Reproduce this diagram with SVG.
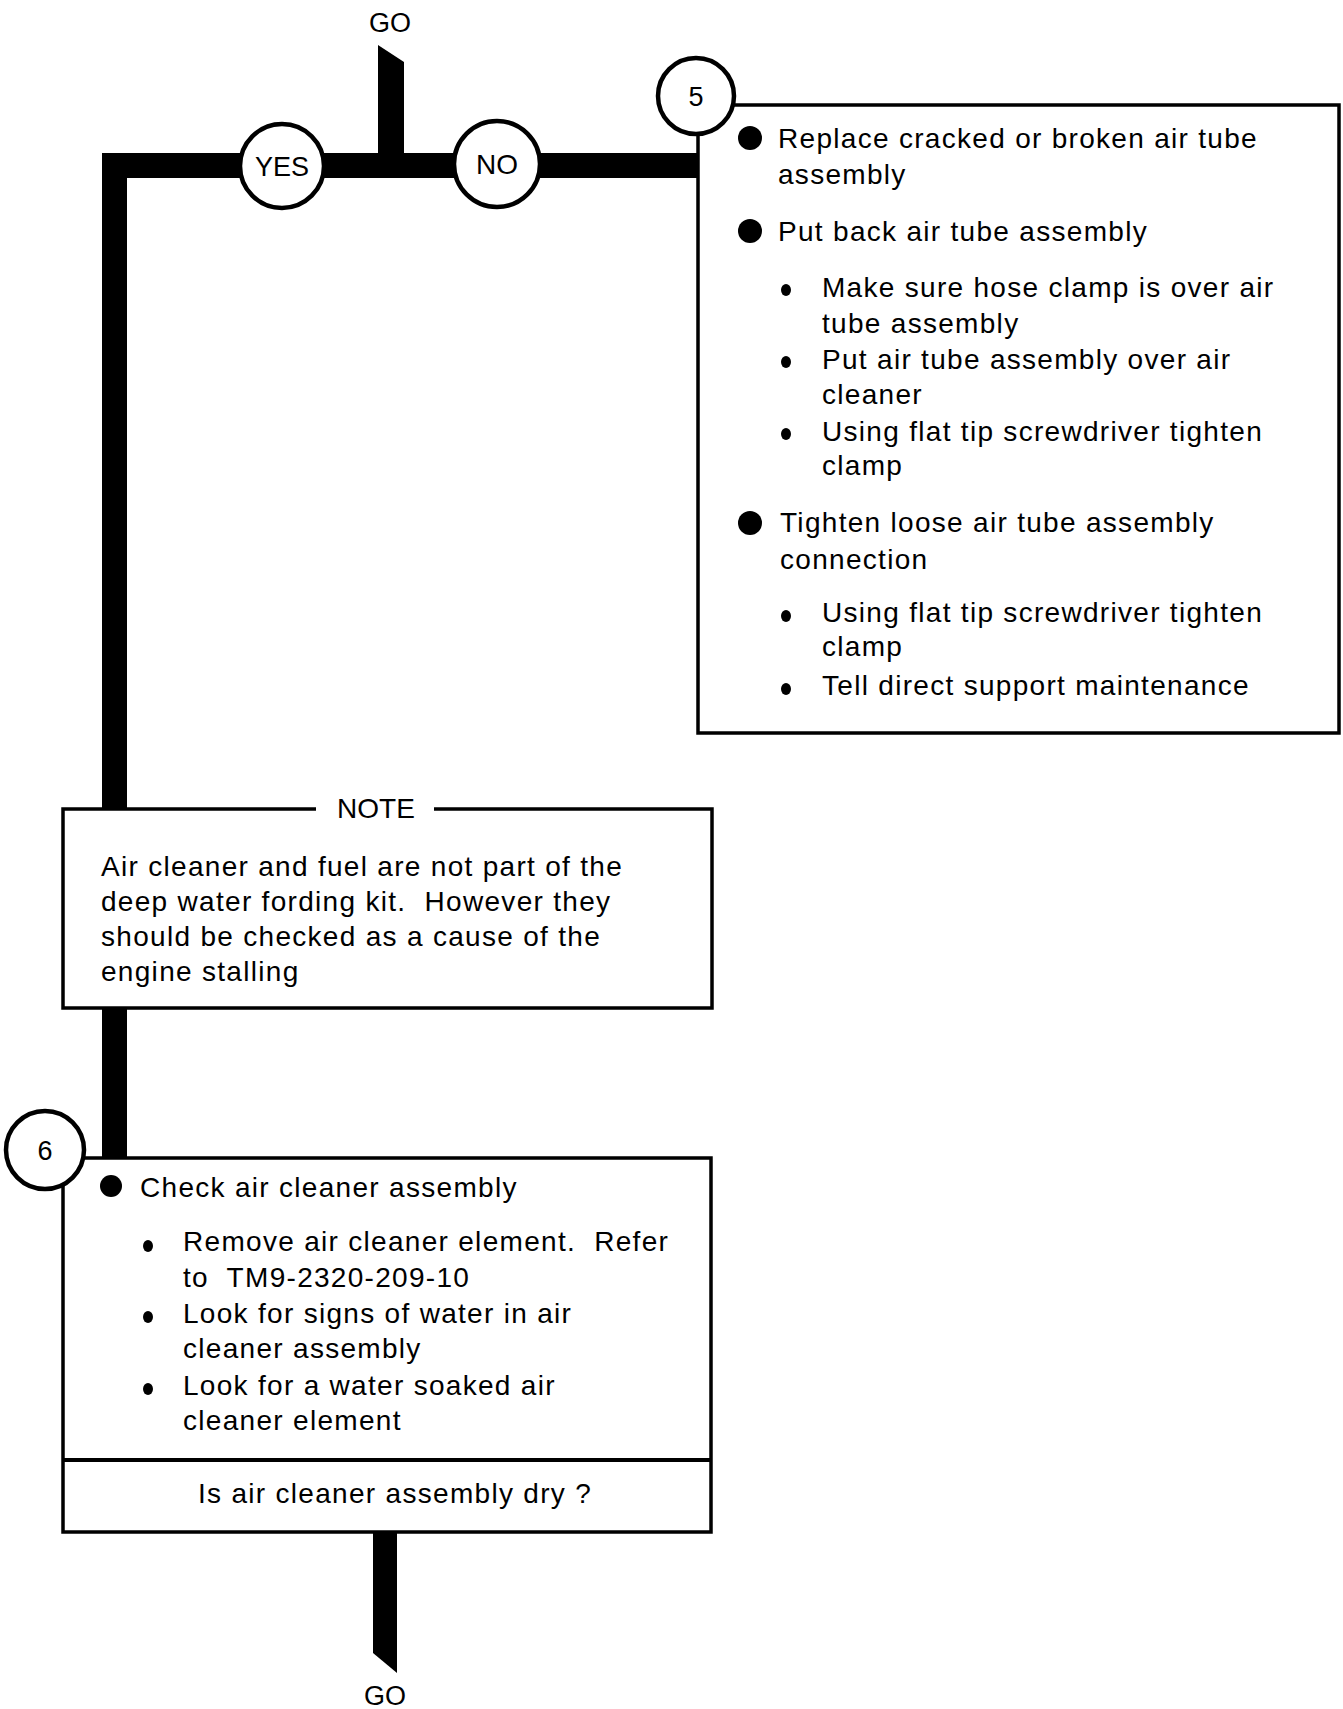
<svg xmlns="http://www.w3.org/2000/svg" width="1343" height="1709" viewBox="0 0 1343 1709">
<style>
text{font-family:"Liberation Sans",Arial,sans-serif;fill:#000;white-space:pre}
.t{font-size:28px;letter-spacing:1.3px}
.lbl{font-size:27px;text-anchor:middle}
.box{fill:#fff;stroke:#000;stroke-width:3.5}
.circ{fill:#fff;stroke:#000;stroke-width:4.5}
.bar{fill:#000}
</style>
<rect width="1343" height="1709" fill="#fff"/>
<g id="connectors">
  <polygon class="bar" points="378,45 404,62 404,160 378,160"/>
  <rect class="bar" x="102" y="153" width="596" height="25"/>
  <rect class="bar" x="102" y="153" width="25" height="1006"/>
  <polygon class="bar" points="373,1530 397,1530 397,1673 373,1653"/>
</g>
<g id="go-top"><text class="lbl" x="390" y="32">GO</text></g>
<g id="go-bottom"><text class="lbl" x="385" y="1705">GO</text></g>
<g id="yes">
  <circle class="circ" cx="282" cy="166" r="42"/>
  <text class="lbl" x="282" y="176">YES</text>
</g>
<g id="no">
  <circle class="circ" cx="497" cy="164" r="43"/>
  <text class="lbl" x="497" y="174" style="font-size:28px">NO</text>
</g>
<g id="step5">
  <rect class="box" x="698" y="105" width="641" height="628"/>
  <circle class="circ" cx="696" cy="96" r="38"/>
  <text class="lbl" x="696" y="106">5</text>
  <circle cx="750" cy="138" r="12"/>
  <text class="t" x="778" y="148">Replace cracked or broken air tube</text>
  <text class="t" x="778" y="184">assembly</text>
  <circle cx="750" cy="231" r="12"/>
  <text class="t" x="778" y="241">Put back air tube assembly</text>
  <ellipse cx="786" cy="290" rx="5" ry="6"/>
  <text class="t" x="822" y="297">Make sure hose clamp is over air</text>
  <text class="t" x="822" y="333">tube assembly</text>
  <ellipse cx="786" cy="362" rx="5" ry="6"/>
  <text class="t" x="822" y="369">Put air tube assembly over air</text>
  <text class="t" x="822" y="404">cleaner</text>
  <ellipse cx="786" cy="434" rx="5" ry="6"/>
  <text class="t" x="822" y="441">Using flat tip screwdriver tighten</text>
  <text class="t" x="822" y="475">clamp</text>
  <circle cx="750" cy="523" r="12"/>
  <text class="t" x="780" y="532">Tighten loose air tube assembly</text>
  <text class="t" x="780" y="569">connection</text>
  <ellipse cx="786" cy="616" rx="5" ry="6"/>
  <text class="t" x="822" y="622">Using flat tip screwdriver tighten</text>
  <text class="t" x="822" y="656">clamp</text>
  <ellipse cx="786" cy="689" rx="5" ry="6"/>
  <text class="t" x="822" y="695">Tell direct support maintenance</text>
</g>
<g id="note">
  <rect class="box" x="63" y="809" width="649" height="199"/>
  <rect x="316" y="800" width="118" height="16" fill="#fff"/>
  <text class="lbl" x="376" y="818" style="font-size:28px">NOTE</text>
  <text class="t" x="101" y="876">Air cleaner and fuel are not part of the</text>
  <text class="t" x="101" y="911">deep water fording kit.  However they</text>
  <text class="t" x="101" y="946">should be checked as a cause of the</text>
  <text class="t" x="101" y="981">engine stalling</text>
</g>
<g id="step6">
  <rect class="box" x="63" y="1158" width="648" height="374"/>
  <line x1="63" y1="1460" x2="711" y2="1460" stroke="#000" stroke-width="4"/>
  <circle class="circ" cx="45" cy="1150" r="39"/>
  <text class="lbl" x="45" y="1160">6</text>
  <circle cx="111" cy="1186" r="11"/>
  <text class="t" x="140" y="1197">Check air cleaner assembly</text>
  <ellipse cx="148" cy="1246" rx="5" ry="6"/>
  <text class="t" x="183" y="1251">Remove air cleaner element.  Refer</text>
  <text class="t" x="183" y="1287">to  TM9-2320-209-10</text>
  <ellipse cx="148" cy="1317" rx="5" ry="6"/>
  <text class="t" x="183" y="1323">Look for signs of water in air</text>
  <text class="t" x="183" y="1358">cleaner assembly</text>
  <ellipse cx="148" cy="1389" rx="5" ry="6"/>
  <text class="t" x="183" y="1395">Look for a water soaked air</text>
  <text class="t" x="183" y="1430">cleaner element</text>
  <text class="t" x="395" y="1503" style="text-anchor:middle">Is air cleaner assembly dry ?</text>
</g>
</svg>
